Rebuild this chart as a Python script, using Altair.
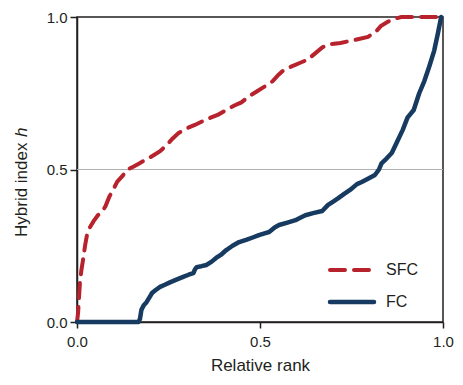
import altair as alt
import pandas as pd

# SFC series (relative rank, hybrid index)
sfc_x = [0, 0.003, 0.005, 0.008, 0.012, 0.016, 0.022, 0.028, 0.035, 0.045, 0.057, 0.068, 0.078, 0.088,
         0.097, 0.11, 0.125, 0.138, 0.155, 0.17, 0.2, 0.227, 0.245, 0.26, 0.278, 0.3, 0.322, 0.346,
         0.365, 0.386, 0.408, 0.43, 0.449, 0.47, 0.49, 0.51, 0.535, 0.55, 0.565, 0.59, 0.61, 0.63,
         0.65, 0.67, 0.686, 0.72, 0.76, 0.795, 0.815, 0.83, 0.85, 0.87, 0.886, 1.0]
sfc_h = [0, 0.03, 0.07, 0.13, 0.17, 0.2, 0.25, 0.29, 0.31, 0.33, 0.35, 0.36, 0.38, 0.41,
         0.43, 0.46, 0.48, 0.5, 0.51, 0.52, 0.54, 0.56, 0.58, 0.6, 0.62, 0.635, 0.646, 0.66,
         0.67, 0.68, 0.695, 0.71, 0.72, 0.74, 0.755, 0.77, 0.79, 0.81, 0.826, 0.84, 0.85, 0.86,
         0.88, 0.9, 0.91, 0.915, 0.925, 0.935, 0.95, 0.97, 0.985, 0.995, 1.0, 1.0]

# FC series
fc_x = [0, 0.168, 0.172, 0.176, 0.183, 0.19, 0.2, 0.205, 0.215, 0.227, 0.24, 0.254, 0.27, 0.29,
        0.305, 0.318, 0.322, 0.327, 0.34, 0.354, 0.368, 0.38, 0.395, 0.408, 0.425, 0.443, 0.462,
        0.48, 0.497, 0.51, 0.525, 0.54, 0.552, 0.575, 0.597, 0.61, 0.624, 0.645, 0.67, 0.686,
        0.7, 0.714, 0.73, 0.746, 0.765, 0.778, 0.795, 0.814, 0.825, 0.832, 0.845, 0.86, 0.873,
        0.89, 0.903, 0.92, 0.935, 0.949, 0.962, 0.976, 0.986, 0.995]
fc_h = [0, 0, 0.01, 0.04, 0.056, 0.065, 0.085, 0.095, 0.105, 0.115, 0.122, 0.13, 0.138, 0.148,
        0.155, 0.16, 0.172, 0.18, 0.183, 0.187, 0.198, 0.21, 0.222, 0.236, 0.25, 0.262, 0.269,
        0.277, 0.285, 0.29, 0.295, 0.31, 0.318, 0.326, 0.334, 0.342, 0.35, 0.357, 0.364, 0.384,
        0.395, 0.406, 0.42, 0.433, 0.452, 0.459, 0.47, 0.482, 0.5, 0.52, 0.535, 0.554, 0.587,
        0.63, 0.67, 0.695, 0.75, 0.79, 0.836, 0.89, 0.946, 1.0]

tick_values = [0.0, 0.5, 1.0]
ref_line = [0.5]
legend_labels = ["SFC", "FC"]

RED = "#b8222c"
NAVY = "#173a60"
FONT = "Liberation Sans"
TXT = "#231f20"

sfc_df = pd.DataFrame({"x": sfc_x, "h": sfc_h})
fc_df = pd.DataFrame({"x": fc_x, "h": fc_h})

xscale = alt.Scale(domain=[0, 1], nice=False, zero=False)
yscale = alt.Scale(domain=[0, 1], nice=False, zero=False)

xaxis = alt.Axis(values=tick_values, format=".1f", title="Relative rank", grid=False,
                 labelFontSize=15, titleFontSize=17, labelColor=TXT, titleColor=TXT,
                 labelFont=FONT, titleFont=FONT, titleFontWeight="normal", domainColor=TXT,
                 domainWidth=1.5, tickColor=TXT, tickWidth=1.5, tickSize=6, labelPadding=6,
                 titlePadding=8, labelFlush=False)
yaxis = alt.Axis(values=tick_values, format=".1f", title=None, grid=False,
                 labelFontSize=15, labelColor=TXT, labelFont=FONT, domainColor=TXT,
                 domainWidth=1.5, tickColor=TXT, tickWidth=1.5, tickSize=7, labelPadding=3,
                 labelFlush=False)

grid = alt.Chart(pd.DataFrame({"h": ref_line})).mark_rule(color="#b0b0b0", strokeWidth=1.2).encode(
    y=alt.Y("h:Q", scale=yscale, axis=yaxis)
)

sfc = alt.Chart(sfc_df).mark_line(color=RED, strokeWidth=4, strokeDash=[15, 9], strokeCap="round").encode(
    x=alt.X("x:Q", scale=xscale, axis=xaxis),
    y=alt.Y("h:Q", scale=yscale, axis=yaxis),
)
fc = alt.Chart(fc_df).mark_line(color=NAVY, strokeWidth=4.5, strokeCap="round", strokeJoin="round").encode(
    x=alt.X("x:Q", scale=xscale, axis=xaxis),
    y=alt.Y("h:Q", scale=yscale, axis=yaxis),
)

# manual legend
leg_sfc_line = alt.Chart(pd.DataFrame({"l": [legend_labels[0]]})).mark_rule(
    color=RED, strokeWidth=4, strokeDash=[15, 9], strokeCap="round").encode(
    x=alt.value(253), x2=alt.value(299), y=alt.value(253))
leg_fc_line = alt.Chart(pd.DataFrame({"l": [legend_labels[1]]})).mark_rule(
    color=NAVY, strokeWidth=4.5, strokeCap="round").encode(
    x=alt.value(253), x2=alt.value(297), y=alt.value(285))
leg_sfc_text = alt.Chart(pd.DataFrame({"l": [legend_labels[0]]})).mark_text(
    font=FONT, fontSize=16, color=TXT, align="left", baseline="middle").encode(
    x=alt.value(309), y=alt.value(253), text="l:N")
leg_fc_text = alt.Chart(pd.DataFrame({"l": [legend_labels[1]]})).mark_text(
    font=FONT, fontSize=16, color=TXT, align="left", baseline="middle").encode(
    x=alt.value(309), y=alt.value(285), text="l:N")

# y axis title with italic h
ytitle = alt.Chart(pd.DataFrame({"t": ["Hybrid index"]})).mark_text(
    font=FONT, fontSize=17, color=TXT, align="left", baseline="middle", angle=270).encode(
    x=alt.value(-55), y=alt.value(220), text="t:N")
ytitle_h = alt.Chart(pd.DataFrame({"t": ["h"]})).mark_text(
    font=FONT, fontSize=17, color=TXT, align="left", baseline="middle", angle=270,
    fontStyle="italic").encode(
    x=alt.value(-55), y=alt.value(120), text="t:N")

chart = alt.layer(grid, sfc, fc, leg_sfc_line, leg_fc_line, leg_sfc_text, leg_fc_text,
                  ytitle, ytitle_h).properties(
    width=366, height=305,
    autosize=alt.AutoSizeParams(type="none"),
    padding={"left": 69, "top": 9, "right": 12, "bottom": 53},
    background="white",
).configure_view(stroke=TXT, strokeWidth=1.5)

chart.save("out.html", embed_options={"renderer": "svg", "actions": False})
